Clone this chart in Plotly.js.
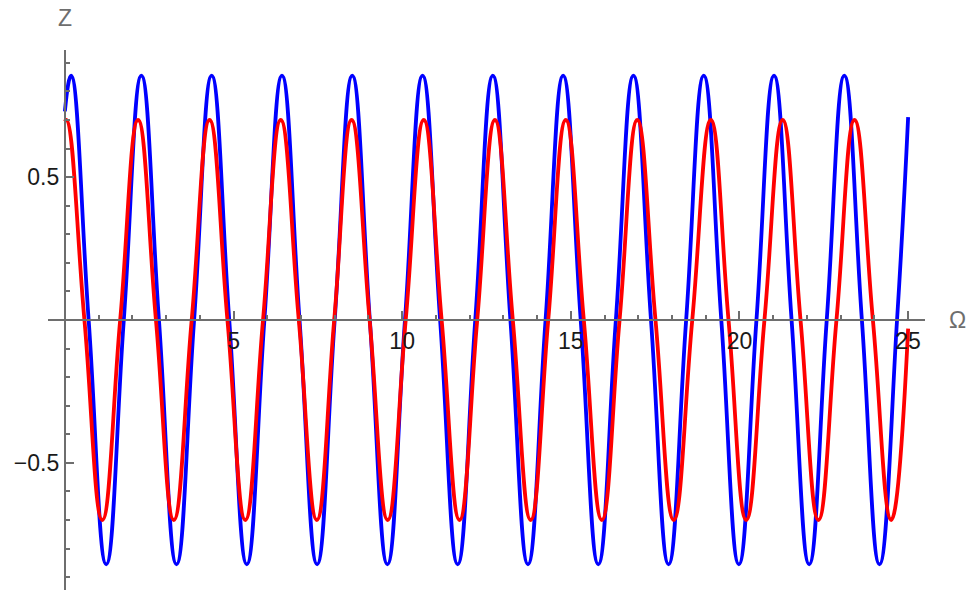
<!DOCTYPE html>
<html>
<head>
<meta charset="utf-8">
<script src="https://cdn.plot.ly/plotly-3.0.1.min.js"></script>
<style>
  html, body { margin: 0; padding: 0; background: #fff; }
  #plot { width: 967px; height: 596px; }
</style>
</head>
<body>
<div id="plot"></div>
<script>
// Curva azul: inicio, máximos, ceros y mínimos
const blueX = [
  0,
  0.184, 0.705, 1.226, 1.747,
  2.268, 2.789, 3.310, 3.831,
  4.352, 4.873, 5.394, 5.915,
  6.436, 6.957, 7.478, 7.999,
  8.520, 9.041, 9.562, 10.083,
  10.604, 11.125, 11.646, 12.167,
  12.688, 13.209, 13.730, 14.251,
  14.772, 15.293, 15.814, 16.335,
  16.856, 17.377, 17.898, 18.419,
  18.940, 19.461, 19.982, 20.503,
  21.024, 21.545, 22.066, 22.587,
  23.108, 23.629, 24.150, 24.671,
  25.0
];
const blueY = [
  0.73,
  0.855, 0, -0.855, 0,
  0.855, 0, -0.855, 0,
  0.855, 0, -0.855, 0,
  0.855, 0, -0.855, 0,
  0.855, 0, -0.855, 0,
  0.855, 0, -0.855, 0,
  0.855, 0, -0.855, 0,
  0.855, 0, -0.855, 0,
  0.855, 0, -0.855, 0,
  0.855, 0, -0.855, 0,
  0.855, 0, -0.855, 0,
  0.855, 0, -0.855, 0,
  0.71
];

// Curva roja: periodo un poco más largo, se va retrasando respecto a la azul
const redX = [
  0,
  0.05, 0.58, 1.11, 1.64,
  2.17, 2.70, 3.23, 3.76,
  4.29, 4.82, 5.35, 5.875,
  6.40, 6.935, 7.47, 7.985,
  8.50, 9.035, 9.57, 10.105,
  10.64, 11.17, 11.70, 12.225,
  12.75, 13.28, 13.81, 14.33,
  14.85, 15.385, 15.92, 16.445,
  16.97, 17.51, 18.05, 18.60,
  19.15, 19.675, 20.20, 20.74,
  21.28, 21.81, 22.34, 22.875,
  23.41, 23.955, 24.50,
  25.0
];
const redY = [
  0.695,
  0.70, 0, -0.70, 0,
  0.70, 0, -0.70, 0,
  0.70, 0, -0.70, 0,
  0.70, 0, -0.70, 0,
  0.70, 0, -0.70, 0,
  0.70, 0, -0.70, 0,
  0.70, 0, -0.70, 0,
  0.70, 0, -0.70, 0,
  0.70, 0, -0.70, 0,
  0.70, 0, -0.70, 0,
  0.70, 0, -0.70, 0,
  0.70, 0, -0.70,
  -0.03
];

// Marcas de los ejes
const xTicks = [5, 10, 15, 20, 25];
const yTicks = [-0.5, 0.5];
const yTickText = ['\u22120.5', '0.5'];

const axisGray = '#6e6e6e';

const data = [
  {
    type: 'scatter', mode: 'lines', x: blueX, y: blueY,
    line: { color: '#0000ff', width: 3.8, shape: 'spline', smoothing: 1.3 },
    hoverinfo: 'none'
  },
  {
    type: 'scatter', mode: 'lines', x: redX, y: redY,
    line: { color: '#ff0000', width: 3.8, shape: 'spline', smoothing: 1.3 },
    hoverinfo: 'none'
  }
];

const layout = {
  width: 967,
  height: 596,
  margin: { l: 48, r: 42, t: 50, b: 6 },
  paper_bgcolor: 'white',
  plot_bgcolor: 'white',
  showlegend: false,
  font: { family: 'Liberation Sans, Arial, sans-serif', size: 23, color: '#1a1a1a' },
  xaxis: {
    range: [-0.5, 25.5],
    anchor: 'free',
    position: 0.5,
    showgrid: false,
    zeroline: false,
    showline: true,
    linecolor: axisGray,
    linewidth: 2,
    ticks: 'inside',
    ticklen: 8,
    tickwidth: 2,
    tickcolor: axisGray,
    tickmode: 'array',
    tickvals: xTicks,
    ticktext: xTicks.map(String),
    minor: { ticks: 'inside', ticklen: 4, tickwidth: 2, tickcolor: axisGray, tickmode: 'linear', tick0: 0, dtick: 1 },
    fixedrange: true
  },
  yaxis: {
    range: [-0.945, 0.945],
    anchor: 'free',
    position: 0.5 / 26,
    showgrid: false,
    zeroline: false,
    showline: true,
    linecolor: axisGray,
    linewidth: 2,
    ticks: 'inside',
    ticklen: 8,
    tickwidth: 2,
    tickcolor: axisGray,
    tickmode: 'array',
    tickvals: yTicks,
    ticktext: yTickText,
    minor: { ticks: 'inside', ticklen: 4, tickwidth: 2, tickcolor: axisGray, tickmode: 'linear', tick0: 0, dtick: 0.1 },
    fixedrange: true
  },
  annotations: [
    {
      text: 'Z', xref: 'x', x: 0, yref: 'paper', y: 1.0593,
      xanchor: 'center', yanchor: 'middle', showarrow: false,
      font: { size: 23, color: axisGray }
    },
    {
      text: '\u03A9', xref: 'paper', x: 1.0365, yref: 'y', y: 0,
      xanchor: 'center', yanchor: 'middle', showarrow: false,
      font: { size: 23, color: axisGray }
    }
  ]
};

Plotly.newPlot('plot', data, layout, { displayModeBar: false, staticPlot: true });
</script>
</body>
</html>
